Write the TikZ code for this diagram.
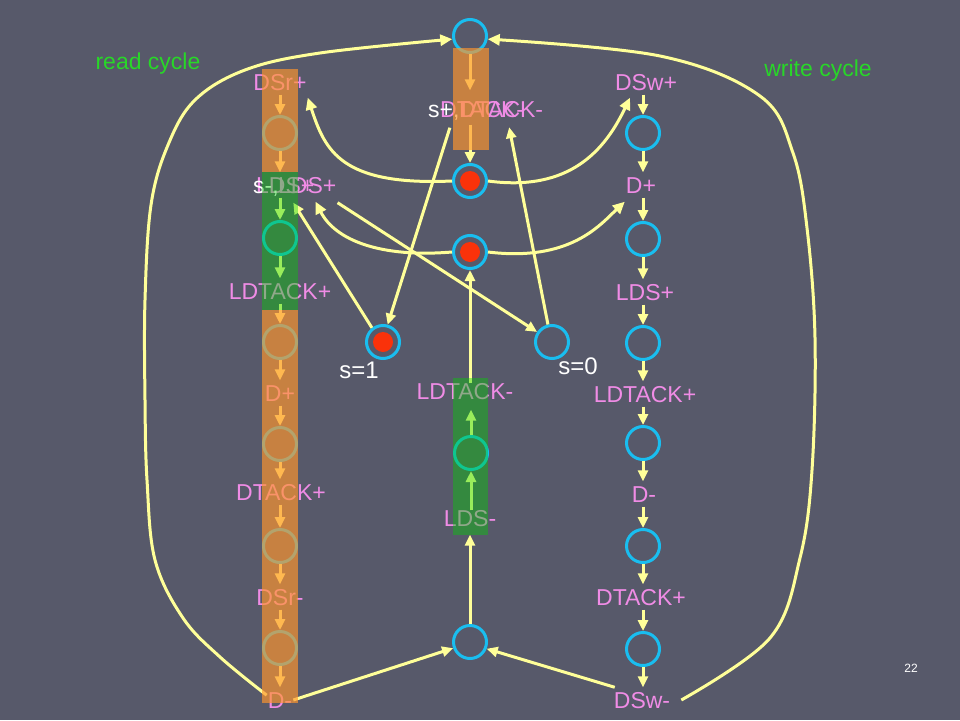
\documentclass[tikz,border=0pt]{standalone}
\usepackage{fontspec}
\setmainfont{Liberation Sans}
\usetikzlibrary{arrows.meta}
\definecolor{bgc}{RGB}{87,89,106}
\definecolor{yel}{RGB}{255,255,153}
\definecolor{pinkc}{RGB}{240,140,230}
\definecolor{cyanc}{RGB}{25,190,240}
\definecolor{tokc}{RGB}{250,50,10}
\definecolor{grn}{RGB}{40,215,40}
\definecolor{orng}{RGB}{255,150,45}
\definecolor{grnbar}{RGB}{0,210,0}
\begin{document}
\begin{tikzpicture}[x=1pt,y=-1pt,
  lbl/.style={text=pinkc, font=\fontsize{23}{23}\selectfont, inner xsep=1pt, inner ysep=4pt, text height=17pt, text depth=0pt},
  wlbl/.style={lbl, text=white},
  place/.style={circle, draw=cyanc, line width=3pt, minimum size=33pt, inner sep=0pt},
  marked/.style={place, path picture={\fill[tokc] (path picture bounding box.center) circle[radius=10pt];}},
  arr/.style={draw=yel, line width=3pt, -{Triangle[length=11pt,width=10pt]}},
  curv/.style={draw=yel, line width=3pt, -{Triangle[length=12pt,width=11pt]}},
  obar/.style={fill=orng, fill opacity=0.67},
  gbar/.style={fill=grnbar, fill opacity=0.4}]
\fill[bgc] (0,0) rectangle (960,720);
\useasboundingbox (0,0) rectangle (960,720);

% titles
\node[lbl, text=grn] (rc) at (148,61) {read cycle};
\node[lbl, text=grn] (wc) at (818,68) {write cycle};
\node[text=white, font=\fontsize{12}{12}\selectfont] (pg) at (911,668) {22};

% left column (read cycle)
\node[lbl] (DSrp) at (280,82) {DSr+};
\node[place] (c1) at (280,133) {};
\node[lbl, anchor=west] (LDSa) at (255,185) {LDS+};
\node[lbl, anchor=west] (LDSb) at (277,185) {LDS+};
\node[wlbl, anchor=west] (sminus) at (252,185) {s-,};
\node[place] (c2) at (280,238) {};
\node[lbl] (LDTACKp) at (280,291) {LDTACK+};
\node[place] (c3) at (280,342) {};
\node[lbl] (Dp) at (280,393) {D+};
\node[place] (c4) at (280,444) {};
\node[lbl] (DTACKp) at (281,492) {DTACK+};
\node[place] (c5) at (280,546) {};
\node[lbl] (DSrm) at (280,597) {DSr-};
\node[place] (c6) at (280,648) {};
\node[lbl] (Dm) at (280,700) {D-};

% right column (write cycle)
\node[lbl] (DSwp) at (646,82) {DSw+};
\node[place] (w1) at (643,133) {};
\node[lbl] (wDp) at (641,185) {D+};
\node[place] (w2) at (643,239) {};
\node[lbl] (wLDSp) at (645,292) {LDS+};
\node[place] (w3) at (643,343) {};
\node[lbl] (wLDTACKp) at (645,394) {LDTACK+};
\node[place] (w4) at (643,443) {};
\node[lbl] (wDm) at (644,494) {D-};
\node[place] (w5) at (643,546) {};
\node[lbl] (wDTACKp) at (641,597) {DTACK+};
\node[place] (w6) at (643,649) {};
\node[lbl] (DSwm) at (642,700) {DSw-};

% middle
\node[place] (top) at (470,36) {};
\node[lbl, anchor=west] (DTa) at (439,109) {DTACK-};
\node[lbl, anchor=west] (DTb) at (458,109) {DTACK-};
\node[wlbl, anchor=west] (splus) at (427,109) {s+,};
\node[marked] (r1) at (470,181) {};
\node[marked] (r2) at (470,252) {};
\node[lbl] (LDTACKm) at (465,391) {LDTACK-};
\node[place] (g) at (471,453) {};
\node[lbl] (LDSm) at (470,518) {LDS-};
\node[place] (bot) at (470,642) {};

% state places
\node[marked] (s1) at (383,342) {};
\node[wlbl, font=\fontsize{24}{24}\selectfont] (s1l) at (359,370) {s=1};
\node[place] (s0) at (552,342) {};
\node[wlbl, font=\fontsize{24}{24}\selectfont] (s0l) at (578,366) {s=0};

% left column arrows
\draw[arr] (DSrp) -- (c1);
\draw[arr] (c1) -- (c1 |- LDSa.north);
\draw[arr] (c1 |- LDSa.south) -- (c2);
\draw[arr] (c2) -- (LDTACKp);
\draw[arr] (LDTACKp) -- (c3);
\draw[arr] (c3) -- (Dp);
\draw[arr] (Dp) -- (c4);
\draw[arr] (c4) -- (c4 |- DTACKp.north);
\draw[arr] (c4 |- DTACKp.south) -- (c5);
\draw[arr] (c5) -- (DSrm);
\draw[arr] (DSrm) -- (c6);
\draw[arr] (c6) -- (Dm);

% right column arrows
\draw[arr] (w1 |- DSwp.south) -- (w1);
\draw[arr] (w1) -- (w1 |- wDp.north);
\draw[arr] (w1 |- wDp.south) -- (w2);
\draw[arr] (w2) -- (w2 |- wLDSp.north);
\draw[arr] (w2 |- wLDSp.south) -- (w3);
\draw[arr] (w3) -- (w3 |- wLDTACKp.north);
\draw[arr] (w3 |- wLDTACKp.south) -- (w4);
\draw[arr] (w4) -- (w4 |- wDm.north);
\draw[arr] (w4 |- wDm.south) -- (w5);
\draw[arr] (w5) -- (w5 |- wDTACKp.north);
\draw[arr] (w5 |- wDTACKp.south) -- (w6);
\draw[arr] (w6) -- (w6 |- DSwm.north);

% middle arrows
\draw[arr, shorten >=6pt] (top) -- (top |- DTa.north);
\draw[arr, shorten <=3pt] (top |- DTa.south) -- (r1);
\draw[arr, shorten >=4pt] (bot) -- (bot |- LDSm.south);
\draw[arr, shorten <=-5pt] (g |- LDSm.north) -- (g);
\draw[arr, shorten >=6pt] (g) -- (g |- LDTACKm.south);
\draw[arr, shorten <=-5pt] (r2 |- LDTACKm.north) -- (r2);

% bottom joins
\draw[arr] (Dm.east) -- (bot.200);
\draw[arr] (DSwm.155) -- (bot.-22);

% crossing curves
\draw[curv] (r1.west) .. controls (340,186) and (325,150) .. ([yshift=-3pt]DSrp.south east);
\draw[curv] (r1.east) .. controls (570,192) and (605,150) .. ([xshift=-16pt,yshift=-3pt]DSwp.south);
\draw[curv] (r2.west) .. controls (380,258) and (335,240) .. ([yshift=-4pt]LDSa.south east);
\draw[curv] (r2.east) .. controls (570,262) and (600,225) .. ([yshift=-4pt]wDp.south west);

% state arrows
\draw[arr] ([xshift=6pt,yshift=-6pt]splus.south) -- (s1.75);
\draw[arr] (s1.128) -- ([xshift=8pt,yshift=-5pt]LDSa.south);
\draw[arr] ([yshift=-5pt]LDSb.south east) -- (s0.146);
\draw[arr] (s0.103) -- ([xshift=8pt,yshift=-5.5pt]DTb.south);

% big cycle curves
\draw[curv] plot[smooth, tension=0.6] coordinates {(Dm.160) (220,657) (183,618) (155,560) (147,480) (145,400) (145,300) (151,205) (168,145) (195,100) (245,70) (320,53) (top.190)};
\draw[curv] plot[smooth, tension=0.6] coordinates {([xshift=10pt]DSwm.east) (770,638) (800,558) (812,470) (815,338) (807,228) (793,153) (760,96) (660,56) (top.-10)};

% translucent bars
\fill[obar] (262,69) rectangle (298,172);
\fill[gbar] (262,172) rectangle (298,310);
\fill[obar] (262,310) rectangle (298,703);
\fill[obar] (453,48) rectangle (489,150);
\fill[gbar] (453,378) rectangle (488,535);
\end{tikzpicture}
\end{document}
